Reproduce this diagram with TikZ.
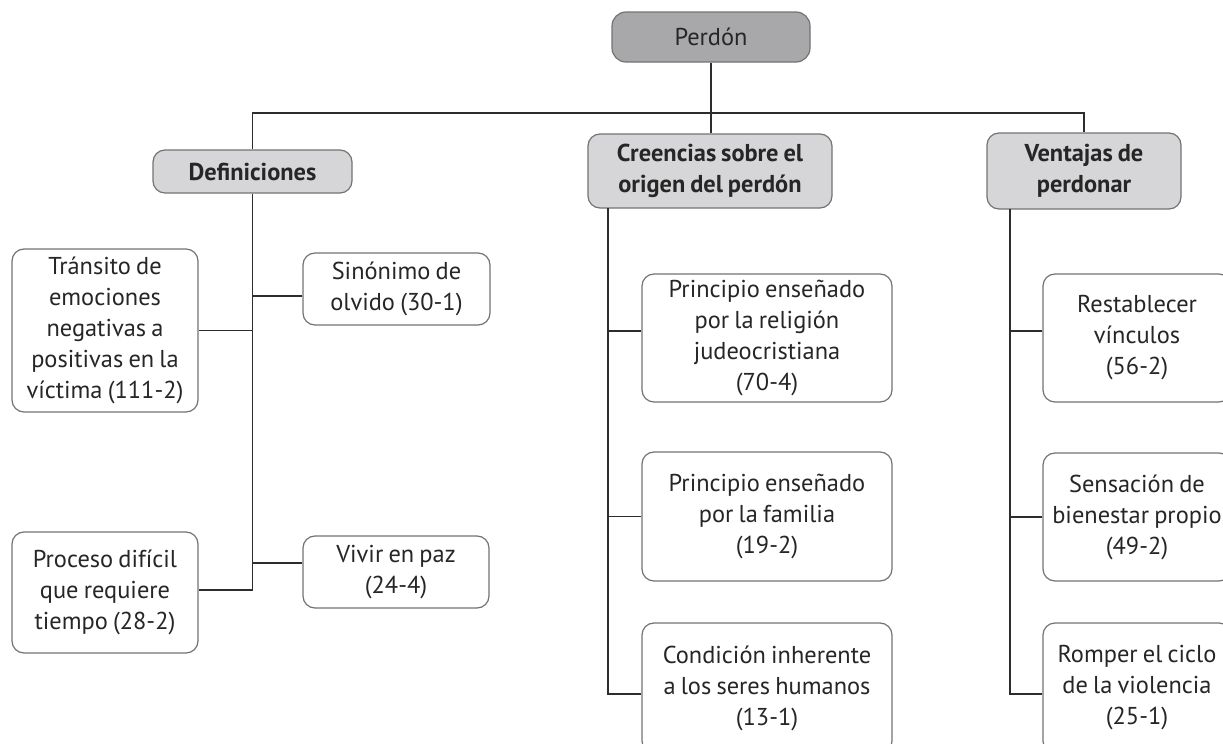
\documentclass[tikz,border=0pt]{standalone}
\usepackage{fontspec}
\setmainfont{PT Sans}[WordSpace=0.8]
\usetikzlibrary{positioning}

\definecolor{rootgray}{RGB}{168,168,171}
\definecolor{headgray}{RGB}{214,214,216}
\definecolor{linegray}{RGB}{45,45,45}
\definecolor{framegray}{RGB}{115,115,115}

\tikzset{
  box/.style={draw=framegray, line width=0.6pt, rounded corners=6pt, align=center,
    inner sep=0pt, text=black!85, font=\fontsize{12.2}{15.5}\selectfont},
  rootbox/.style={box, fill=rootgray, rounded corners=7pt},
  headbox/.style={box, fill=headgray, font=\fontsize{12.2}{15.5}\selectfont\bfseries},
  leafbox/.style={box, fill=white},
  link/.style={draw=linegray, line width=0.7pt},
}

\begin{document}
\begin{tikzpicture}[x=0.5pt,y=-0.5pt]
	\useasboundingbox (0,0) rectangle (1223,744);
	\clip (0,0) rectangle (1223,744);

	% root and headings
	\node[rootbox, minimum width=99pt, minimum height=25pt] (perdon) at (711,37) {Perdón};
	\node[headbox, minimum width=99.5pt, minimum height=21.5pt] (defin) at (252.5,171.5) {Definiciones};
	\node[headbox, minimum width=122pt, minimum height=37pt] (creen) at (710,171) {Creencias sobre el\\origen del perdón};
	\node[headbox, minimum width=97pt, minimum height=38pt] (vent) at (1084,171) {Ventajas de\\perdonar};

	% definiciones
	\node[leafbox, minimum width=93pt, minimum height=81.5pt] (transito) at (105,330.5) {Tránsito de\\emociones\\negativas a\\positivas en la\\víctima (111-2)};
	\node[leafbox, minimum width=93.5pt, minimum height=36pt] (sinonimo) at (396.5,289) {Sinónimo de\\olvido (30-1)};
	\node[leafbox, minimum width=93pt, minimum height=60.5pt] (proceso) at (105,592.5) {Proceso difícil\\que requiere\\tiempo (28-2)};
	\node[leafbox, minimum width=93pt, minimum height=36pt] (vivir) at (396,572) {Vivir en paz\\(24-4)};

	% creencias
	\node[leafbox, minimum width=125pt, minimum height=64pt] (relig) at (767,338) {Principio enseñado\\por la religión\\judeocristiana\\(70-4)};
	\node[leafbox, minimum width=125pt, minimum height=64.5pt] (familia) at (767,516.5) {Principio enseñado\\por la familia\\(19-2)};
	\node[leafbox, minimum width=125pt, minimum height=65pt] (condicion) at (767,688) {Condición inherente\\a los seres humanos\\(13-1)};

	% ventajas
	\node[leafbox, minimum width=94pt, minimum height=64pt] (restab) at (1137,338) {Restablecer\\vínculos\\(56-2)};
	\node[leafbox, minimum width=94pt, minimum height=64pt] (sensacion) at (1137,517) {Sensación de\\bienestar propio\\(49-2)};
	\node[leafbox, minimum width=94pt, minimum height=65pt] (romper) at (1137,688) {Romper el ciclo\\de la violencia\\(25-1)};

	% top bar
	\coordinate (bar) at (711,113);
	\draw[link] (perdon.south) -- (bar);
	\draw[link] (defin.north) |- (bar) -| (vent.north);
	\draw[link] (bar) -- (bar |- creen.north);

	% trunks
	\draw[link] (defin.south) |- ([yshift=1.25pt]proceso.east);
	\draw[link] (transito.east) -- (transito.east -| defin.south);
	\draw[link] ([yshift=-3.5pt]sinonimo.west) -- ++(-50,0);
	\draw[link] ([yshift=4.5pt]vivir.west) -- ++(-50,0);

	\coordinate (ctop) at (608,208);
	\draw[link] (ctop) |- ([yshift=-3pt]condicion.west);
	\draw[link] ([yshift=3.5pt]relig.west) -- ++(-34,0);
	\draw[link] (familia.west) -- (familia.west -| ctop);

	\coordinate (vtop) at (1010,209);
	\draw[link] (vtop) |- ([yshift=-3pt]romper.west);
	\draw[link] ([yshift=3.5pt]restab.west) -- ++(-33,0);
	\draw[link] (sensacion.west) -- (sensacion.west -| vtop);
\end{tikzpicture}
\end{document}
